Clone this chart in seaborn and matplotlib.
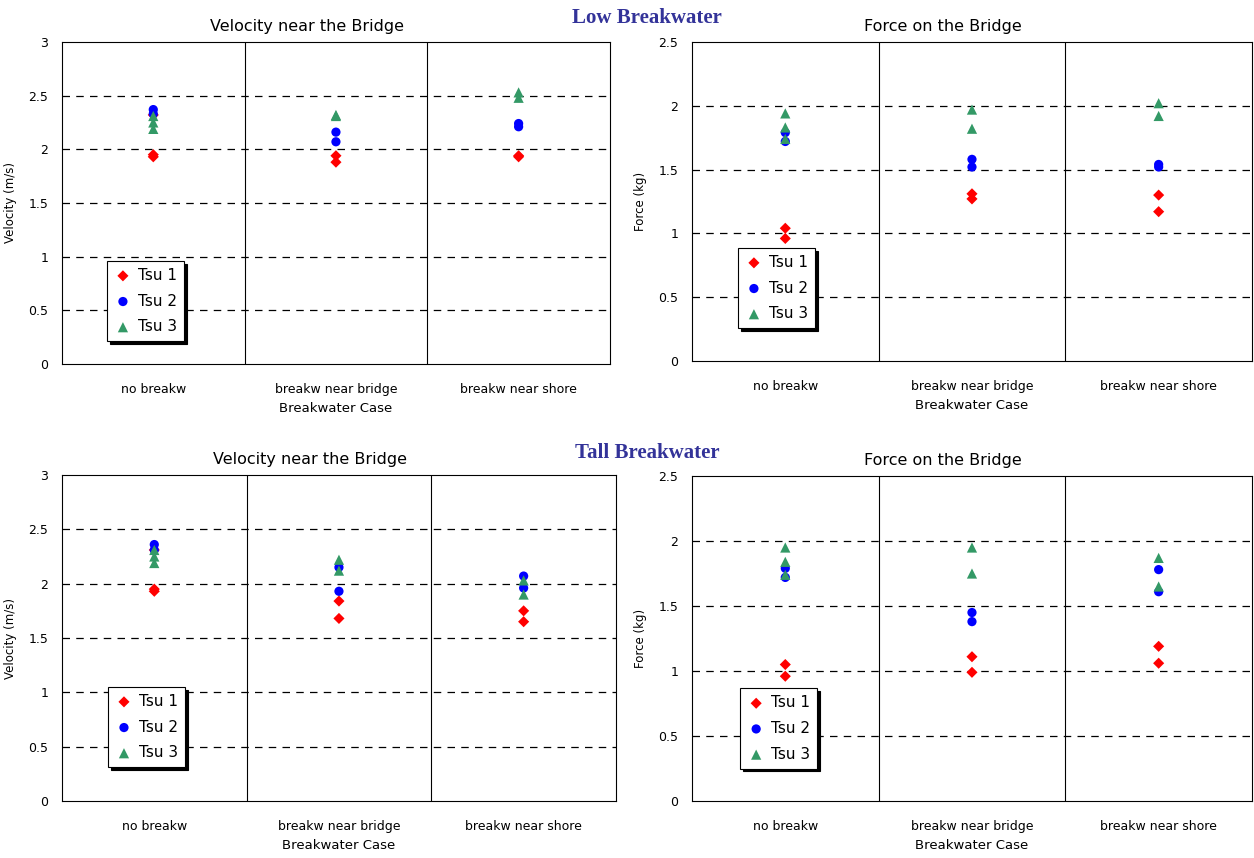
import numpy as np
import pandas as pd
import matplotlib
matplotlib.use('Agg')
import matplotlib.pyplot as plt
import seaborn as sns

# ---------- dados ----------
cases = ['no breakw', 'breakw near bridge', 'breakw near shore']
series = ['Tsu 1', 'Tsu 2', 'Tsu 3']

# Low breakwater - velocidade (m/s)
low_vel_tsu1 = [[1.93, 1.95, 2.32], [1.94, 1.88], [1.94, 1.93]]
low_vel_tsu2 = [[2.37, 2.33], [2.16, 2.07], [2.24, 2.21]]
low_vel_tsu3 = [[2.31, 2.25, 2.19], [2.32, 2.31], [2.53, 2.48]]

# Low breakwater - força (kg)
low_for_tsu1 = [[1.04, 0.96], [1.31, 1.27], [1.30, 1.17]]
low_for_tsu2 = [[1.79, 1.72], [1.58, 1.52], [1.54, 1.52]]
low_for_tsu3 = [[1.94, 1.83, 1.74], [1.97, 1.82], [2.02, 1.92]]

# Tall breakwater - velocidade (m/s)
tall_vel_tsu1 = [[1.93, 1.95, 2.31], [1.84, 1.68], [1.75, 1.65]]
tall_vel_tsu2 = [[2.36, 2.31], [2.15, 1.93], [2.07, 1.96]]
tall_vel_tsu3 = [[2.31, 2.25, 2.19], [2.22, 2.12], [2.03, 1.90]]

# Tall breakwater - força (kg)
tall_for_tsu1 = [[1.05, 0.96], [1.11, 0.99], [1.19, 1.06]]
tall_for_tsu2 = [[1.79, 1.72], [1.45, 1.38], [1.78, 1.61]]
tall_for_tsu3 = [[1.95, 1.84, 1.74], [1.95, 1.75], [1.87, 1.65]]


def build_df(t1, t2, t3):
    rows = []
    for name, vals in zip(series, [t1, t2, t3]):
        for ci, lst in enumerate(vals):
            for v in lst:
                rows.append({'Case': ci + 0.5, 'Valor': v, 'Serie': name})
    return pd.DataFrame(rows)


sns.set_theme(style='white')
plt.rcParams['font.family'] = ['DejaVu Sans']
plt.rcParams['text.color'] = 'black'
plt.rcParams['axes.labelcolor'] = 'black'
plt.rcParams['xtick.color'] = 'black'
plt.rcParams['ytick.color'] = 'black'

palette = {'Tsu 1': '#FF0000', 'Tsu 2': '#0000FF', 'Tsu 3': '#339966'}
markers = {'Tsu 1': 'D', 'Tsu 2': 'o', 'Tsu 3': '^'}
sizes_m = {'Tsu 1': 32, 'Tsu 2': 44, 'Tsu 3': 54}

fig = plt.figure(figsize=(12.54, 8.58), dpi=100)

paineis = [
    ([0.0494, 0.5758, 0.4370, 0.3753], build_df(low_vel_tsu1, low_vel_tsu2, low_vel_tsu3),
     'Velocity near the Bridge', 'Velocity (m/s)', 3.0, (0.082, 0.071)),
    ([0.5518, 0.5793, 0.4466, 0.3718], build_df(low_for_tsu1, low_for_tsu2, low_for_tsu3),
     'Force on the Bridge', 'Force (kg)', 2.5, (0.082, 0.103)),
    ([0.0494, 0.0664, 0.4418, 0.3800], build_df(tall_vel_tsu1, tall_vel_tsu2, tall_vel_tsu3),
     'Velocity near the Bridge', 'Velocity (m/s)', 3.0, (0.083, 0.104)),
    ([0.5518, 0.0664, 0.4466, 0.3788], build_df(tall_for_tsu1, tall_for_tsu2, tall_for_tsu3),
     'Force on the Bridge', 'Force (kg)', 2.5, (0.086, 0.100)),
]

for rect, df, titulo, ylab, ymax, leg_pos in paineis:
    ax = fig.add_axes(rect)
    for s in series:
        sub = df[df['Serie'] == s]
        sns.scatterplot(data=sub, x='Case', y='Valor', ax=ax, color=palette[s],
                        marker=markers[s], s=sizes_m[s], edgecolor='none',
                        label=s, zorder=3)
    ax.set_xlim(0, 3)
    ax.set_ylim(0, ymax)
    ax.set_yticks(np.arange(0, ymax + 0.01, 0.5))
    ax.set_yticklabels([f'{v:g}' for v in np.arange(0, ymax + 0.01, 0.5)], fontsize=9)
    ax.set_xticks([0.5, 1.5, 2.5])
    ax.set_xticklabels(cases, fontsize=9)
    ax.tick_params(axis='x', length=0, pad=14)
    ax.tick_params(axis='y', length=4, direction='out', color='black', pad=6)
    for y in np.arange(0.5, ymax, 0.5):
        ax.axhline(y, color='black', linestyle=(0, (6, 5)), linewidth=0.9, zorder=1)
    for x in [1, 2]:
        ax.axvline(x, color='black', linewidth=0.8, zorder=1)
    for sp in ax.spines.values():
        sp.set_color('black')
        sp.set_linewidth(0.8)
    # título deslocado à esquerda (centrado na área do gráfico, como no Excel)
    ax.set_title(titulo, fontsize=11.5, pad=8, x=0.448)
    ax.set_xlabel('Breakwater Case', fontsize=9.5, labelpad=4)
    ax.set_ylabel(ylab, fontsize=8.5, labelpad=8)
    leg = ax.legend(loc='lower left', bbox_to_anchor=leg_pos, fontsize=11,
                    frameon=True, fancybox=False, shadow={'color': 'black', 'alpha': 1.0},
                    handletextpad=0.4, borderaxespad=0,
                    borderpad=0.45, labelspacing=0.7, handlelength=1.2)
    leg.get_frame().set_edgecolor('black')
    leg.get_frame().set_linewidth(0.8)

fig.text(0.516, 0.979, 'Low Breakwater', ha='center', va='center', fontsize=15,
         fontweight='bold', color='#333399', family=['Liberation Serif'])
fig.text(0.516, 0.472, 'Tall Breakwater', ha='center', va='center', fontsize=15,
         fontweight='bold', color='#333399', family=['Liberation Serif'])

fig.savefig('out.png', dpi=100)
plt.close(fig)
